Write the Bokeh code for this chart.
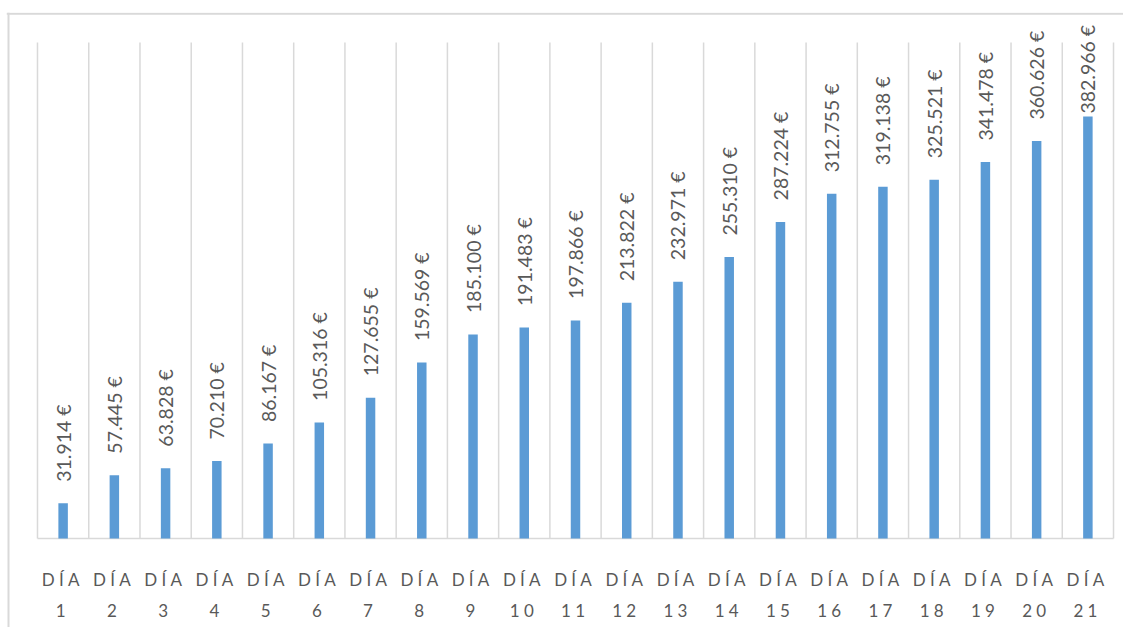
import math
from bokeh.plotting import figure
from bokeh.models import ColumnDataSource, Range1d, Span
from bokeh.core.properties import value
from bokeh.embed import file_html
from bokeh.resources import INLINE

# ---- data ----
days = ["DÍA 1", "DÍA 2", "DÍA 3", "DÍA 4", "DÍA 5", "DÍA 6", "DÍA 7",
        "DÍA 8", "DÍA 9", "DÍA 10", "DÍA 11", "DÍA 12", "DÍA 13", "DÍA 14",
        "DÍA 15", "DÍA 16", "DÍA 17", "DÍA 18", "DÍA 19", "DÍA 20", "DÍA 21"]
amounts = [31914, 57445, 63828, 70210, 86167, 105316, 127655, 159569, 185100,
           191483, 197866, 213822, 232971, 255310, 287224, 312755, 319138,
           325521, 341478, 360626, 382966]

Y_MAX = 450000
SP = "\u2005"  # letter spacing

xs = list(range(1, len(days) + 1))
labels = [f"{v:,}".replace(",", ".") + " €" for v in amounts]
label_base = [min(v, 366000) for v in amounts]
line1 = [SP.join(d.split(" ")[0]) for d in days]
line2 = [SP.join(d.split(" ")[1]) for d in days]

src = ColumnDataSource(dict(x=xs, v=amounts, lbl=labels, ly=label_base,
                            l1=line1, l2=line2))

p = figure(width=1123, height=627, output_backend="svg", toolbar_location=None,
           x_range=Range1d(-0.105, 21.695), y_range=Range1d(-80746, 477219),
           x_axis_location=None, y_axis_location=None,
           min_border_left=6, min_border_top=12, min_border_right=0,
           min_border_bottom=0)
p.grid.visible = False
p.outline_line_color = None
p.background_fill_color = "white"
p.border_fill_color = "white"

# chart-area border (left and top edges)
p.add_layout(Span(location=-0.066, dimension="height",
                  line_color="#d9d9d9", line_width=2))
p.add_layout(Span(location=476040, dimension="width",
                  line_color="#d9d9d9", line_width=2))

# category boundary grid lines
bounds = [i + 0.5 for i in range(0, len(days) + 1)]
p.segment(x0=bounds, y0=[0] * len(bounds), x1=bounds, y1=[Y_MAX] * len(bounds),
          line_color="#d9d9d9", line_width=1.5)
# baseline
p.segment(x0=[bounds[0]], y0=[0], x1=[bounds[-1]], y1=[0],
          line_color="#d9d9d9", line_width=1.5)

# bars
p.vbar(x="x", top="v", bottom=0, width=0.185, source=src,
       fill_color="#5b9bd5", line_color=None)

# value labels
p.text(x="x", y="ly", text="lbl", source=src, angle=math.pi / 2,
       text_align="left", text_baseline="middle", y_offset=-21.5,
       text_font=value("Lato"), text_font_size="19.5px", text_color="#595959")

# category labels (two lines)
p.text(x="x", y=0, text="l1", source=src, text_align="center",
       text_baseline="alphabetic", y_offset=41, x_offset=-2.5,
       text_font=value("Lato"), text_font_size="17px", text_color="#595959")
p.text(x="x", y=0, text="l2", source=src, text_align="center",
       text_baseline="alphabetic", y_offset=72, x_offset=-2.5,
       text_font=value("Lato"), text_font_size="17px", text_color="#595959")

open("out.html", "w").write(file_html(p, INLINE))
